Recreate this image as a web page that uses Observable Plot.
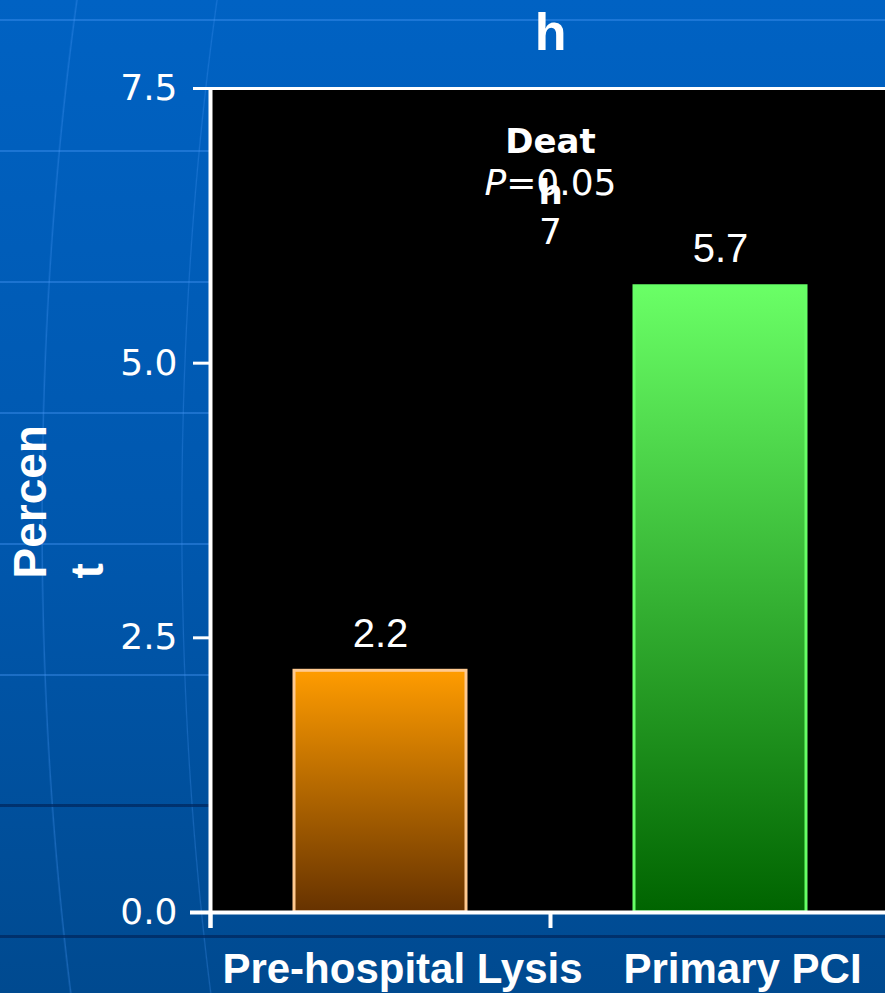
<!DOCTYPE html>
<html>
<head>
<meta charset="utf-8">
<script src="https://cdn.jsdelivr.net/npm/d3@7"></script>
<script src="https://cdn.jsdelivr.net/npm/@observablehq/plot@0.6"></script>
<style>
  html, body { margin: 0; padding: 0; overflow: hidden; }
  body {
    width: 885px; height: 993px;
    background:
      /* dark latitude lines near the bottom */
      linear-gradient(to bottom, transparent 64px, rgba(0, 40, 95, 0.75) 64px, rgba(0, 40, 95, 0.75) 67px, transparent 67px, transparent 195px, rgba(0, 40, 95, 0.75) 195px, rgba(0, 40, 95, 0.75) 198px, transparent 198px) 0 740px / 100% 253px no-repeat,
      /* light latitude lines */
      repeating-linear-gradient(to bottom, transparent 0, transparent 19px, rgba(70, 150, 245, 0.4) 19px, rgba(70, 150, 245, 0.4) 21px, transparent 21px, transparent 131px) 0 0 / 100% 740px no-repeat,
      /* faint meridians */
      radial-gradient(ellipse 560px 1500px at 600px 520px, transparent 99.4%, rgba(70, 150, 245, 0.35) 99.6%, transparent 99.9%),
      radial-gradient(ellipse 420px 1300px at 600px 520px, transparent 99.3%, rgba(70, 150, 245, 0.3) 99.55%, transparent 99.85%),
      linear-gradient(to bottom, #0062c3 0%, #0057ad 55%, #004a90 100%);
  }
  #chart { position: absolute; left: 0; top: 0; }
</style>
</head>
<body>
<div id="chart"></div>
<script>
// Death rate by reperfusion strategy
const categories = ["Pre-hospital Lysis", "Primary PCI"];
const percent = [2.2, 5.7];
const barFills = ["url(#gradLysis)", "url(#gradPCI)"];
const barStrokes = ["#ffc990", "#66ff66"];
const yTicks = [0, 2.5, 5, 7.5];
const titleText = "h";
const outcomeLabel = "Deat\nh";
const pValueLabel = "P=0.05\n7";
const yLabel = "Percen\nt";

const rows = categories.map((c, i) => ({
  category: c, value: percent[i], fill: barFills[i], stroke: barStrokes[i]
}));

const width = 885, height = 993;
const marginLeft = 210, marginRight = -5, marginTop = 88, marginBottom = 81;
const halfStep = (width - marginRight - marginLeft) / categories.length / 2;

// gradient definitions used by the bars
function gradients() {
  const defs = d3.create("svg:defs");
  const stops = [
    ["gradLysis", "#ff9c00", "#663200"],
    ["gradPCI", "#6aff66", "#006400"]
  ];
  for (const [id, top, bottom] of stops) {
    const g = defs.append("linearGradient").attr("id", id)
      .attr("x1", 0).attr("y1", 0).attr("x2", 0).attr("y2", 1);
    g.append("stop").attr("offset", "0%").attr("stop-color", top);
    g.append("stop").attr("offset", "100%").attr("stop-color", bottom);
  }
  return defs.node();
}

const chart = Plot.plot({
  width, height, marginLeft, marginRight, marginTop, marginBottom,
  style: {
    background: "transparent", color: "white", overflow: "hidden",
    fontFamily: "'Liberation Sans', Arial, sans-serif"
  },
  x: { domain: categories, padding: 0 },
  y: { domain: [0, 7.5] },
  color: { type: "identity" },
  marks: [
    gradients,
    Plot.frame({ fill: "black", stroke: "none" }),
    Plot.barY(rows, {
      x: "category", y: "value", fill: "fill", stroke: "stroke",
      strokeWidth: 3, insetLeft: 84, insetRight: 84
    }),
    Plot.text(rows, {
      x: "category", y: "value", text: d => d.value.toFixed(1),
      lineAnchor: "bottom", dy: -24, fill: "white", fontSize: 40
    }),
    // plot frame lines and axes
    Plot.ruleY([7.5], { stroke: "white", strokeWidth: 3 }),
    Plot.ruleY([0], { stroke: "white", strokeWidth: 4, insetLeft: -20 }),
    Plot.ruleX([categories[0]], { dx: -halfStep, stroke: "white", strokeWidth: 4, insetBottom: -16 }),
    Plot.ruleX(categories, { dx: -halfStep, y1: 0, y2: 0, stroke: "white", strokeWidth: 4, insetBottom: -16 }),
    Plot.axisY({
      ticks: yTicks, tickFormat: d3.format(".1f"), tickSize: 17, tickPadding: 16,
      strokeWidth: 3, fontSize: 36, fontFamily: "'DejaVu Sans', sans-serif", label: null
    }),
    Plot.axisX({
      tickSize: 0, tickPadding: 41, fontSize: 42, fontWeight: "bold", dx: 22, label: null
    }),
    // titles and annotations
    Plot.text([titleText], {
      frameAnchor: "top", lineAnchor: "bottom", dy: -39,
      fontSize: 52, fontWeight: "bold", fill: "white"
    }),
    Plot.text([pValueLabel], {
      frameAnchor: "top", lineAnchor: "top", dy: 71, lineHeight: 1.38,
      fontSize: 36, fontFamily: "'DejaVu Sans', sans-serif", fill: "white"
    }),
    Plot.text([outcomeLabel], {
      frameAnchor: "top", lineAnchor: "top", dy: 28, lineHeight: 1.5,
      fontSize: 34, fontWeight: "bold", fontFamily: "'DejaVu Sans', sans-serif", fill: "white"
    }),
    Plot.text([yLabel], {
      frameAnchor: "left", rotate: -90, textAnchor: "start", lineAnchor: "top",
      dx: -205, dy: 78, lineHeight: 1.24,
      fontSize: 46, fontWeight: "bold", fill: "white"
    })
  ]
});

// italic statistic symbol in the p-value line
d3.select(chart).selectAll("tspan, text").each(function () {
  const node = d3.select(this);
  if (this.childNodes.length === 1 && this.firstChild.nodeType === 3 && this.textContent === "P=0.05") {
    node.text(null);
    node.append("tspan").attr("font-style", "italic").text("P");
    node.append("tspan").text("=0.05");
  }
});

document.getElementById("chart").append(chart);
</script>
</body>
</html>
